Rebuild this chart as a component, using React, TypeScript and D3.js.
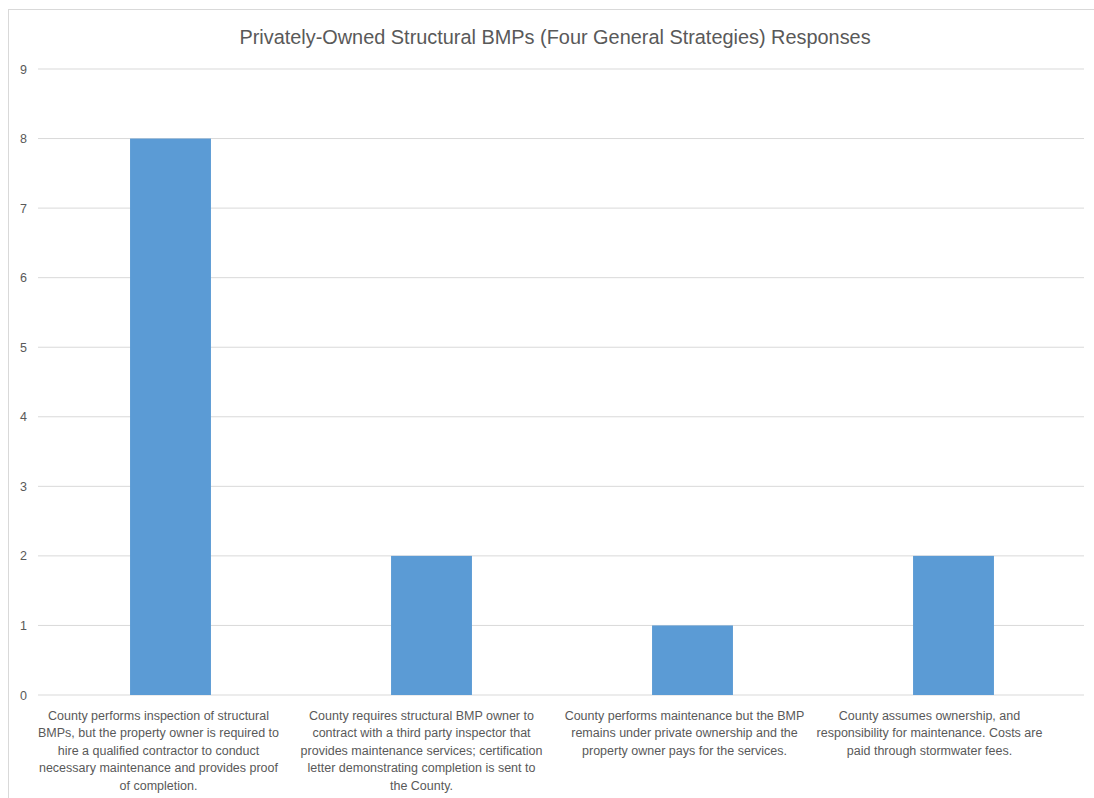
import React from "react";
import * as d3 from "d3";

const title = "Privately-Owned Structural BMPs (Four General Strategies) Responses";
const categories = ["A", "B", "C", "D"];
const values = [8, 2, 1, 2];
const categoryLabelLines = [
  ["County performs inspection of structural", "BMPs, but the property owner is required to", "hire a qualified contractor to conduct", "necessary maintenance and provides proof", "of completion."],
  ["County requires structural BMP owner to", "contract with a third party inspector that", "provides maintenance services; certification", "letter demonstrating completion is sent to", "the County."],
  ["County performs maintenance but the BMP", "remains under private ownership and the", "property owner pays for the services."],
  ["County assumes ownership, and", "responsibility for maintenance. Costs are", "paid through stormwater fees."],
];
const yTicks = [0, 1, 2, 3, 4, 5, 6, 7, 8, 9];

export default function App() {
  const W = 1094, H = 798;
  const left = 40, right = 1084, top = 69, bottom = 695;
  const x = d3.scaleBand<string>().domain(categories).range([left, right]).paddingInner(0.69).paddingOuter(0.345);
  const y = d3.scaleLinear().domain([0, 9]).range([bottom, top]);
  const font = "'Liberation Sans', Arial, sans-serif";
  const band = (right - left) / categories.length;
  // Excel-like label placement nudges (layout only)
  const labelNudge = [-12, -10, -8, -24];
  return (
    <svg width={W} height={H} style={{ position: "absolute", left: 0, top: 0, background: "#fff" }}>
      <rect x={8.5} y={9.5} width={W} height={H} fill="#fff" stroke="#d9d9d9" strokeWidth={1} />
      <text x={555} y={44} textAnchor="middle" fontFamily={font} fontSize={19.9} fill="#595959">{title}</text>
      {yTicks.map((t) => (
        <g key={t}>
          <line x1={38} x2={right} y1={y(t)} y2={y(t)} stroke="#d9d9d9" strokeWidth={1} />
          <text x={27} y={y(t) + 4.5} textAnchor="end" fontFamily={font} fontSize={12.5} fill="#595959">{t}</text>
        </g>
      ))}
      {categories.map((c, i) => (
        <rect key={c} x={x(c)} y={y(values[i])} width={x.bandwidth()} height={y(0) - y(values[i])} fill="#5b9bd5" />
      ))}
      {categories.map((c, i) => (
        <text key={"l" + c} textAnchor="middle" fontFamily={font} fontSize={12.5} fill="#595959">
          {categoryLabelLines[i].map((ln, j) => (
            <tspan key={j} x={left + band * (i + 0.5) + labelNudge[i]} y={720 + j * 17.4}>{ln}</tspan>
          ))}
        </text>
      ))}
    </svg>
  );
}
